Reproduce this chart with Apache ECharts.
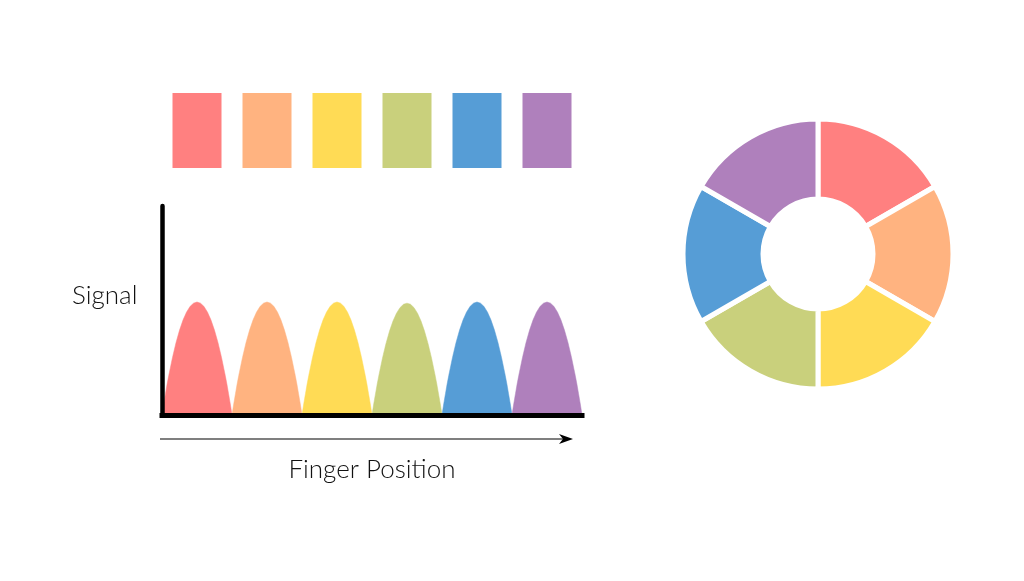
<!DOCTYPE html>
<html>
<head>
<meta charset="utf-8">
<script src="https://cdn.jsdelivr.net/npm/echarts@6/dist/echarts.min.js"></script>
<style>html,body{margin:0;padding:0;background:#fff}#c{width:1024px;height:581px}</style>
</head>
<body>
<div id="c"></div>
<script>
// ---- data ----
const colorNames = ['red', 'orange', 'yellow', 'green', 'blue', 'purple'];
const colors = ['#FF8080', '#FFB380', '#FFDB55', '#C9D07C', '#569DD6', '#AF80BC'];
const swatchValues = [1, 1, 1, 1, 1, 1];
const donutValues = [1, 1, 1, 1, 1, 1];
const humpStarts = [0, 1, 2, 3, 4, 5];
const humpPeaks = [1.0, 1.0, 1.0, 0.99, 1.0, 1.0];
const humpOffsets = [0, 0.025, 0.05, 0.075, 0.1, 0.15, 0.2, 0.25, 0.3, 0.35, 0.4, 0.45, 0.5, 0.55, 0.6, 0.65, 0.7, 0.75, 0.8, 0.85, 0.9, 0.925, 0.95, 0.975, 1];
const humpProfile = [0, 0.10, 0.19, 0.28, 0.36, 0.51, 0.64, 0.75, 0.84, 0.91, 0.96, 0.99, 1, 0.99, 0.96, 0.91, 0.84, 0.75, 0.64, 0.51, 0.36, 0.28, 0.19, 0.10, 0];
const axisTexts = { x: 'Finger Position', y: 'Signal' };

const FONT = 'Lato, "Open Sans", sans-serif';

const humpSeries = humpStarts.map((s, i) => ({
  type: 'line',
  xAxisIndex: 0, yAxisIndex: 0,
  name: colorNames[i],
  data: humpOffsets.map((o, k) => [s + o, humpProfile[k] * humpPeaks[i]]),
  smooth: false,
  showSymbol: false,
  lineStyle: { width: 0.5, color: colors[i] },
  areaStyle: { color: colors[i], opacity: 1 },
  itemStyle: { color: colors[i] },
  z: 1
}));

const chart = echarts.init(document.getElementById('c'));
chart.setOption({
  backgroundColor: '#ffffff',
  animation: false,
  grid: [
    { left: 162, top: 206, width: 420, height: 209 },
    { left: 162, top: 93, width: 420, height: 75 }
  ],
  xAxis: [
    { type: 'value', gridIndex: 0, min: 0, max: 6, z: 10,
      axisLine: { show: true, lineStyle: { color: '#000', width: 5, cap: 'square' } },
      axisTick: { show: false }, axisLabel: { show: false }, splitLine: { show: false },
      name: axisTexts.x, nameLocation: 'middle', nameGap: 42,
      nameTextStyle: { fontFamily: FONT, fontSize: 26, color: '#111', fontWeight: 300 }
    },
    { type: 'category', gridIndex: 1, data: colorNames, show: false }
  ],
  yAxis: [
    { type: 'value', gridIndex: 0, min: 0, max: 1.85, z: 10,
      axisLine: { show: true, lineStyle: { color: '#000', width: 4.5 } },
      axisTick: { show: false }, axisLabel: { show: false }, splitLine: { show: false }
    },
    { type: 'value', gridIndex: 1, min: 0, max: 1, show: false }
  ],
  graphic: [
    { type: 'text', left: 72, top: 283, style: { text: axisTexts.y, font: '300 26px ' + FONT, fill: '#111' } },
    { type: 'line', shape: { x1: 160, y1: 439, x2: 566, y2: 439 }, style: { stroke: '#000', lineWidth: 1.2 } },
    { type: 'polygon', shape: { points: [[573, 439], [559, 434], [563, 439], [559, 444]] }, style: { fill: '#000' } }
  ],
  series: [
    ...humpSeries,
    { type: 'bar', xAxisIndex: 1, yAxisIndex: 1, barWidth: 49,
      data: swatchValues.map((v, i) => ({ value: v, itemStyle: { color: colors[i] } })) },
    { type: 'pie', center: [818, 254], radius: [55, 135], startAngle: 90, clockwise: true,
      label: { show: false }, labelLine: { show: false },
      itemStyle: { borderColor: '#fff', borderWidth: 5 },
      emphasis: { disabled: true },
      data: donutValues.map((v, i) => ({ value: v, name: colorNames[i], itemStyle: { color: colors[i] } })) }
  ]
});
</script>
</body>
</html>
